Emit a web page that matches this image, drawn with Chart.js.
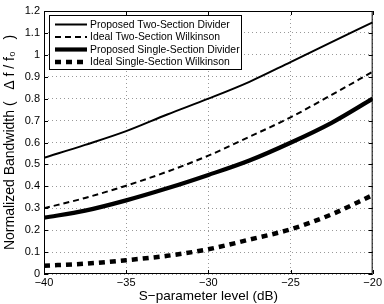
<!DOCTYPE html>
<html>
<head>
<meta charset="utf-8">
<script src="https://cdn.jsdelivr.net/npm/chart.js@4.4.0/dist/chart.umd.min.js"></script>
<style>
  html, body { margin: 0; padding: 0; background: #fff; }
  #wrap { width: 384px; height: 304px; }
</style>
</head>
<body>
<div id="wrap"><canvas id="chart" width="384" height="304"></canvas></div>
<script>
// S-parameter level (dB)
const sLevels = [-40, -37.5, -35, -32.5, -30, -27.5, -25, -22.5, -20];
// normalized bandwidth
const proposedTwo = [0.53, 0.589, 0.652, 0.728, 0.80, 0.877, 0.967, 1.058, 1.148];
const idealTwo = [0.30, 0.347, 0.403, 0.467, 0.54, 0.626, 0.715, 0.817, 0.923];
const proposedSingle = [0.257, 0.289, 0.336, 0.391, 0.452, 0.518, 0.599, 0.69, 0.80];
const idealSingle = [0.038, 0.047, 0.063, 0.083, 0.113, 0.157, 0.204, 0.272, 0.36];

const xTicks = [-40, -35, -30, -25, -20];
const yTicks = [0, 0.1, 0.2, 0.3, 0.4, 0.5, 0.6, 0.7, 0.8, 0.9, 1, 1.1, 1.2];
const seriesNames = [
  "Proposed Two-Section Divider",
  "Ideal Two-Section Wilkinson",
  "Proposed Single-Section Divider",
  "Ideal Single-Section Wilkinson"
];

const FONT = "'Liberation Sans', Arial, Helvetica, sans-serif";

function pts(arr) {
  return sLevels.map((x, i) => ({x: x, y: arr[i]}));
}

// box + inward ticks like matlab, legend inside
const framePlugin = {
  id: "frame",
  afterDatasetsDraw(chart) {
    const {ctx, chartArea: a, scales} = chart;
    ctx.save();
    ctx.strokeStyle = "#000";
    ctx.lineWidth = 1;
    ctx.setLineDash([]);
    ctx.strokeRect(a.left + 0.5, a.top + 0.5, a.right - a.left - 1, a.bottom - a.top - 1);
    const tl = 4;
    ctx.beginPath();
    xTicks.forEach((v) => {
      const px = Math.round(scales.x.getPixelForValue(v)) + 0.5;
      ctx.moveTo(px, a.bottom); ctx.lineTo(px, a.bottom - tl);
      ctx.moveTo(px, a.top); ctx.lineTo(px, a.top + tl);
    });
    yTicks.forEach((v) => {
      const py = Math.round(scales.y.getPixelForValue(v)) + 0.5;
      ctx.moveTo(a.left, py); ctx.lineTo(a.left + tl, py);
      ctx.moveTo(a.right, py); ctx.lineTo(a.right - tl, py);
    });
    ctx.stroke();

    // legend box
    const bx = 49, by = 15, bw = 192, bh = 54;
    ctx.fillStyle = "#fff";
    ctx.fillRect(bx, by, bw, bh);
    ctx.strokeRect(bx + 0.5, by + 0.5, bw, bh);
    ctx.font = "10.4px " + FONT;
    ctx.textBaseline = "middle";
    ctx.textAlign = "left";
    chart.data.datasets.forEach((ds, i) => {
      const y = by + 9.5 + i * 12.5;
      ctx.beginPath();
      ctx.lineWidth = ds.borderWidth;
      ctx.setLineDash(ds.borderDash || []);
      ctx.strokeStyle = "#000";
      ctx.moveTo(55, y);
      ctx.lineTo(87, y);
      ctx.stroke();
      ctx.setLineDash([]);
      ctx.fillStyle = "#000";
      ctx.fillText(ds.label, 90, y + 0.5);
    });
    ctx.restore();
  }
};

new Chart(document.getElementById("chart"), {
  type: "line",
  data: {
    datasets: [
      {label: seriesNames[0], data: pts(proposedTwo), borderColor: "#000", borderWidth: 2},
      {label: seriesNames[1], data: pts(idealTwo), borderColor: "#000", borderWidth: 2, borderDash: [6, 4]},
      {label: seriesNames[2], data: pts(proposedSingle), borderColor: "#000", borderWidth: 4.2},
      {label: seriesNames[3], data: pts(idealSingle), borderColor: "#000", borderWidth: 4.5, borderDash: [6, 5]}
    ]
  },
  options: {
    responsive: false,
    animation: false,
    events: [],
    layout: {padding: {top: 11, right: 7, left: 0, bottom: 0}},
    elements: {
      point: {radius: 0},
      line: {borderCapStyle: "butt", fill: false, cubicInterpolationMode: "monotone"}
    },
    plugins: {legend: {display: false}, tooltip: {enabled: false}},
    scales: {
      x: {
        type: "linear",
        min: -40,
        max: -20,
        afterBuildTicks: (s) => { s.ticks = xTicks.map((v) => ({value: v})); },
        afterFit: (s) => { s.height = 30; },
        ticks: {
          color: "#000",
          font: {size: 11, family: FONT},
          padding: 2,
          maxRotation: 0,
          callback: (v) => String(v).replace("-", "\u2212")
        },
        grid: {color: "#999", lineWidth: 1, drawTicks: false, borderDash: [1, 3]},
        border: {display: false, dash: [1, 3]},
        title: {
          display: true,
          text: "S\u2212parameter level (dB)",
          color: "#000",
          font: {size: 13.5, family: FONT},
          padding: {top: 0, bottom: 0}
        }
      },
      y: {
        min: 0,
        max: 1.2,
        afterBuildTicks: (s) => { s.ticks = yTicks.map((v) => ({value: v})); },
        afterFit: (s) => { s.width = 44; },
        ticks: {
          color: "#000",
          font: {size: 11, family: FONT},
          padding: 4,
          callback: (v) => String(parseFloat(v.toFixed(1)))
        },
        grid: {color: "#999", lineWidth: 1, drawTicks: false, borderDash: [1, 3]},
        border: {display: false, dash: [1, 3]},
        title: {
          display: true,
          text: "Normalized Bandwidth (   \u0394 f / f\u2080   )",
          color: "#000",
          font: {size: 14, family: FONT},
          padding: {top: 2, bottom: 0}
        }
      }
    }
  },
  plugins: [framePlugin]
});
</script>
</body>
</html>
